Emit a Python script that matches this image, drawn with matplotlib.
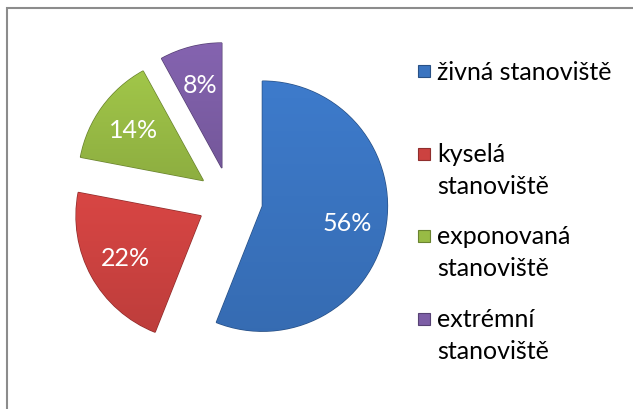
import numpy as np
import matplotlib
matplotlib.use('Agg')
import matplotlib.pyplot as plt
from matplotlib.patches import Rectangle
from matplotlib.colors import to_rgb

# data
values = [56, 22, 14, 8]
names = ['živná stanoviště', 'kyselá\nstanoviště', 'exponovaná\nstanoviště', 'extrémní\nstanoviště']
colors = ['#3a74c0', '#cc4240', '#98bb45', '#7d5ea6']

plt.rcParams['font.family'] = ['Lato', 'DejaVu Sans']

W, H = 633, 410
fig = plt.figure(figsize=(W / 100, H / 100), dpi=100)
ax = fig.add_axes([0, 0, 1, 1])

R = 125
wedges, texts, autotexts = ax.pie(values, colors=colors, startangle=90, counterclock=False,
                                  explode=[33] * 4, radius=R, center=(230, 209),
                                  autopct='%1.0f%%', pctdistance=0.69,
                                  textprops=dict(color='white', fontsize=18),
                                  wedgeprops=dict(linewidth=1.0))

# soft vertical shading inside each slice
for w, c in zip(wedges, colors):
    base = np.array(to_rgb(c))
    w.set_edgecolor(tuple(base * 0.7))
    x0, y0, x1, y1 = w.get_path().get_extents(w.get_patch_transform()).extents
    t = np.linspace(1.06, 0.93, 100)[:, None]
    img = np.clip(base[None, None, :] * t[:, :, None], 0, 1)
    img = np.repeat(img, 2, axis=1)
    im = ax.imshow(img, extent=(x0, x1, y0, y1), origin='upper', aspect='auto', zorder=1.5)
    im.set_clip_path(w)
for t in autotexts:
    t.set_zorder(3)

# legend
ly = 338
for name, c in zip(names, colors):
    base = np.array(to_rgb(c))
    ax.add_patch(Rectangle((418, ly - 6), 12, 12, facecolor=c, edgecolor=tuple(base * 0.7), lw=0.8))
    for k, line in enumerate(name.split('\n')):
        ax.text(437, ly - 32 * k, line, fontsize=18, va='center', ha='left', color='black')
    ly -= 82.5

ax.add_patch(Rectangle((7, -10), W, H - 9 + 10, fill=False, edgecolor='#8c8c8c', lw=1.5))

ax.set_xlim(0, W)
ax.set_ylim(0, H)
ax.set_aspect('equal')
ax.axis('off')

fig.savefig('out.png', dpi=100)
